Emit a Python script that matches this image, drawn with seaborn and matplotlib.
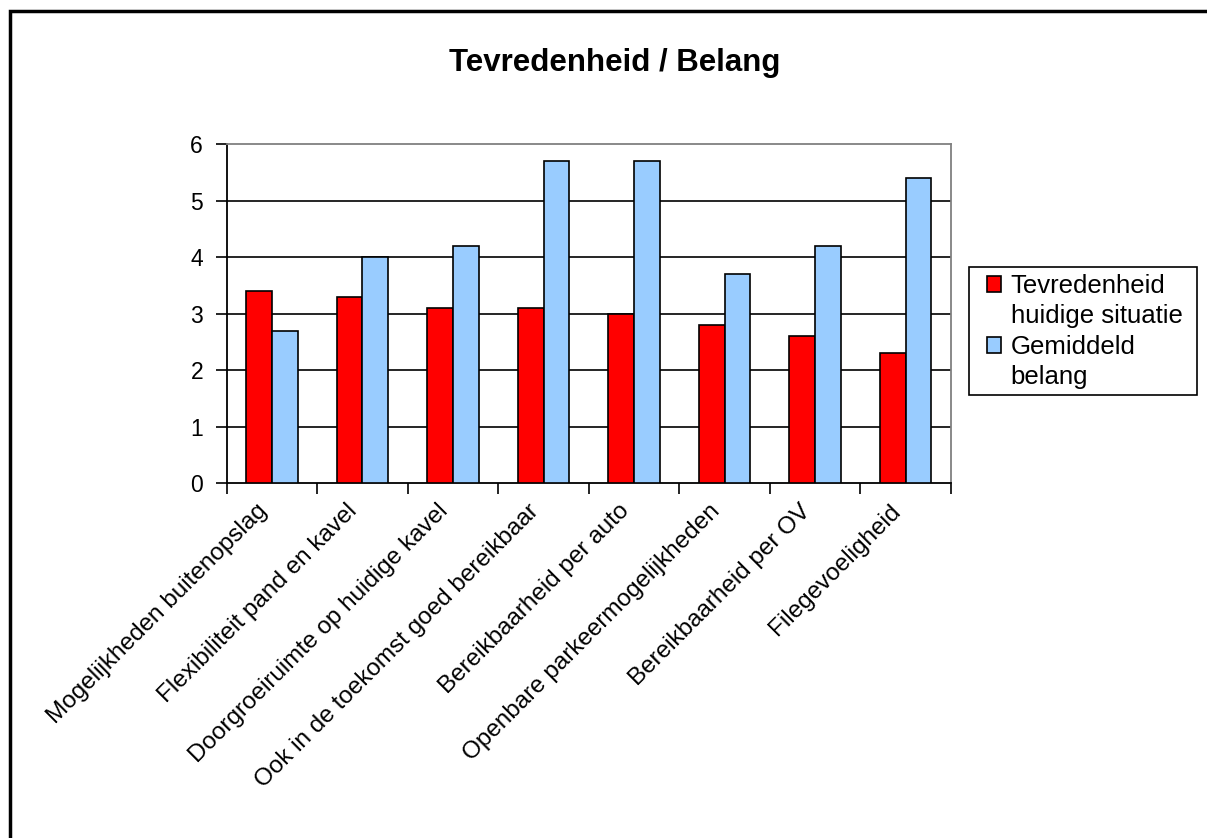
import matplotlib
matplotlib.use("Agg")
import matplotlib.pyplot as plt
from matplotlib.patches import Rectangle, Patch
from matplotlib.ticker import FixedLocator
from matplotlib.transforms import ScaledTranslation
import pandas as pd
import seaborn as sns

categories = [
    "Mogelijkheden buitenopslag",
    "Flexibiliteit pand en kavel",
    "Doorgroeiruimte op huidige kavel",
    "Ook in de toekomst goed bereikbaar",
    "Bereikbaarheid per auto",
    "Openbare parkeermogelijkheden",
    "Bereikbaarheid per OV",
    "Filegevoeligheid",
]
tevredenheid = [3.4, 3.3, 3.1, 3.1, 3.0, 2.8, 2.6, 2.3]
belang = [2.7, 4.0, 4.2, 5.7, 5.7, 3.7, 4.2, 5.4]
series_names = ["Tevredenheid huidige situatie", "Gemiddeld belang"]
legend_lines = [["Tevredenheid", "huidige situatie"], ["Gemiddeld", "belang"]]
colors = ["#FF0000", "#99CCFF"]

df = pd.DataFrame({
    "categorie": categories * 2,
    "waarde": tevredenheid + belang,
    "reeks": [series_names[0]] * len(categories) + [series_names[1]] * len(categories),
})

sns.set_theme(style="white")
plt.rcParams["font.family"] = ["Liberation Sans", "DejaVu Sans"]
plt.rcParams["text.color"] = "black"
plt.rcParams["xtick.color"] = "black"
plt.rcParams["ytick.color"] = "black"
plt.rcParams["xtick.labelcolor"] = "black"
plt.rcParams["ytick.labelcolor"] = "black"

W, H = 1207, 838
fig = plt.figure(figsize=(W / 100, H / 100), dpi=100)
ax = fig.add_axes([0.1878, 0.4233, 0.6000, 0.4049])

sns.barplot(data=df, x="categorie", y="waarde", hue="reeks", palette=colors,
            width=0.57, saturation=1, edgecolor="black", linewidth=1.2,
            legend=False, ax=ax, zorder=3)

ax.set_ylim(0, 6)
ax.set_xlim(-0.5, len(categories) - 0.5)
ax.set_yticks(range(0, 7))
ax.grid(False)
for y in range(1, 6):
    ax.axhline(y, color="black", linewidth=1.2, zorder=1)

for side in ["top", "right"]:
    ax.spines[side].set_color("#808080")
    ax.spines[side].set_linewidth(1.3)
for side in ["left", "bottom"]:
    ax.spines[side].set_color("black")
    ax.spines[side].set_linewidth(1.3)

ax.set_xlabel("")
ax.set_ylabel("")
ax.tick_params(axis="y", which="major", direction="out", length=8, width=1.2,
               left=True, labelsize=16.5, pad=9)
ax.tick_params(axis="x", which="major", length=0, pad=12)
ax.xaxis.set_minor_locator(FixedLocator([i - 0.5 for i in range(len(categories) + 1)]))
ax.tick_params(axis="x", which="minor", direction="out", length=8, width=1.2,
               bottom=True)
ax.set_xticks(range(len(categories)))
ax.set_xticklabels(categories, rotation=45, ha="right", rotation_mode="anchor",
                   fontsize=17.5)
for lbl in ax.get_xticklabels():
    lbl.set_transform(lbl.get_transform() + ScaledTranslation(
        -16 / 100, 0, fig.dpi_scale_trans))

fig.text(0.509, 0.925, "Tevredenheid / Belang", ha="center", va="center",
         fontsize=22.5, fontweight="bold")

# legend: one row per text line, swatch only on the first line of each series
handles, labels = [], []
for c, lines in zip(colors, legend_lines):
    handles.append(Patch(facecolor=c, edgecolor="black", linewidth=1.2))
    labels.append(lines[0])
    handles.append(Patch(facecolor="none", edgecolor="none"))
    labels.append(lines[1])
leg = fig.legend(handles, labels, loc="upper left",
                 bbox_to_anchor=(987 / W, 1 - 274 / H),
                 fontsize=18.5, frameon=False,
                 handlelength=0.56, handleheight=0.56, handletextpad=0.36,
                 borderpad=0, labelspacing=0.25, borderaxespad=0)
fig.patches.append(Rectangle((969 / W, 1 - 395 / H), 228 / W, 128 / H,
                             transform=fig.transFigure, fill=False,
                             edgecolor="black", linewidth=1.2))

# outer chart frame
fig.patches.append(Rectangle((10 / W, -0.05), 1.2, 1 - 11 / H + 0.05,
                             transform=fig.transFigure, fill=False,
                             edgecolor="black", linewidth=2.5))

fig.savefig("out.png", dpi=100, facecolor="white")
